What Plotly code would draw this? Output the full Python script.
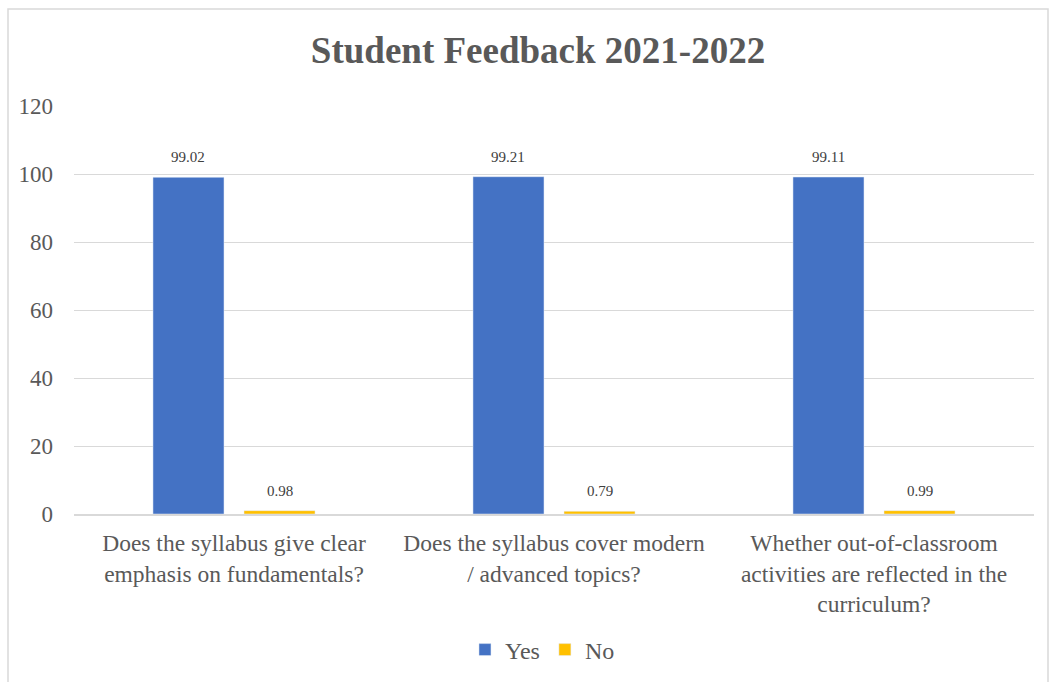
import plotly.graph_objects as go

categories = [
    "Does the syllabus give clear<br>emphasis on fundamentals?",
    "Does the syllabus cover modern<br>/ advanced topics?",
    "Whether out-of-classroom<br>activities are reflected in the<br>curriculum?",
]
yes_values = [99.02, 99.21, 99.11]
no_values = [0.98, 0.79, 0.99]
y_ticks = [0, 20, 40, 60, 80, 100, 120]

FONT = "Liberation Serif, Times New Roman, serif"
GREY = "#595959"

BARGAP = 0.431
GROUPGAP = 0.22
PLOT_W = 960
slot_px = PLOT_W / len(categories) * (1 - BARGAP) / 2

fig = go.Figure()
fig.add_trace(go.Bar(name="Yes", x=categories, y=yes_values, marker_color="#4472C4"))
fig.add_trace(go.Bar(name="No", x=categories, y=no_values, marker_color="#FFC000"))

annotations = []
for sign, vals in ((-1, yes_values), (1, no_values)):
    for cat, v in zip(categories, vals):
        annotations.append(dict(
            x=cat, y=v, xref="x", yref="y", text=f"{v:.2f}", showarrow=False,
            xshift=sign * slot_px / 2, yshift=20, yanchor="middle",
            font=dict(size=15, color="#404040", family=FONT),
        ))

fig.update_layout(
    width=1055, height=682,
    paper_bgcolor="white", plot_bgcolor="white",
    font=dict(family=FONT, color=GREY),
    title=dict(text="<b>Student Feedback 2021-2022</b>", x=538/1055, xanchor="center",
               y=1 - 50/682, yanchor="middle", font=dict(size=37, color=GREY, family=FONT)),
    margin=dict(l=74, r=21, t=106, b=168, autoexpand=False),
    barmode="group", bargap=BARGAP, bargroupgap=GROUPGAP,
    showlegend=True,
    legend=dict(orientation="h", x=0.488, xanchor="center", y=-136/408, yanchor="middle",
                font=dict(size=24, color=GREY, family=FONT), itemwidth=30,
                traceorder="normal"),
    annotations=annotations,
    shapes=[dict(type="rect", xref="paper", yref="paper",
                 x0=-66/960, x1=1 + 14/960, y0=-0.6, y1=1 + 505/408 - 1,
                 line=dict(color="#d9d9d9", width=1.5), fillcolor="rgba(0,0,0,0)", layer="below")],
)
fig.update_xaxes(showgrid=False, showline=True, linecolor="#d9d9d9", linewidth=1.5,
                 ticks="", automargin=False, ticklabelstandoff=7,
                 tickfont=dict(size=23.5, color=GREY, family=FONT))
fig.update_yaxes(range=[0, 120], tickvals=y_ticks, showgrid=True, gridcolor="#d9d9d9",
                 gridwidth=1.2, zeroline=False, showline=False, ticks="", automargin=False,
                 tickfont=dict(size=23, color=GREY, family=FONT), ticklabelstandoff=20)

fig.write_html("out.html", config={"displayModeBar": False},
               post_script="document.body.style.margin='0';document.body.style.padding='0';")
